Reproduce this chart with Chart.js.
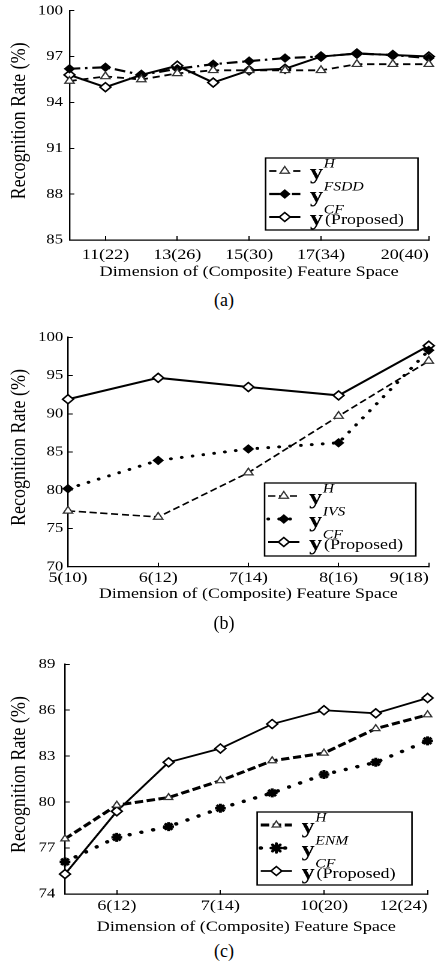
<!DOCTYPE html>
<html>
<head>
<meta charset="utf-8">
<script src="https://cdn.jsdelivr.net/npm/chart.js@4.4.1/dist/chart.umd.min.js"></script>
<style>
  body { margin: 0; background: #fff; width: 436px; height: 964px; position: relative; overflow: hidden; }
  /* the scanned figure is stretched sideways, so each panel is drawn narrow and scaled */
  .panel { position: absolute; left: 0; width: 363.33px; transform: scaleX(1.2); transform-origin: 0 0; }
  .caption { position: absolute; left: 0; width: 448px; text-align: center; font: 18px/20px "Liberation Serif", serif; color: #000; }
</style>
</head>
<body>
<div class="panel" style="top:0px;height:290px"><canvas id="chartA"></canvas></div>
<div class="caption" style="top:290px">(a)</div>
<div class="panel" style="top:320px;height:297px"><canvas id="chartB"></canvas></div>
<div class="caption" style="top:613px">(b)</div>
<div class="panel" style="top:640px;height:300px"><canvas id="chartC"></canvas></div>
<div class="caption" style="top:941px">(c)</div>

<script>
const SX = 1.2;
const serif = '"Liberation Serif", "Times New Roman", serif';

// (a) only some dimensions are labelled on the axis
const labelsA = ["", "11(22)", "", "13(26)", "", "15(30)", "", "17(34)", "", "", "20(40)"];
const yTicksA = [85, 88, 91, 94, 97, 100];
const hA = [95.4, 95.7, 95.5, 95.9, 96.1, 96.1, 96.1, 96.1, 96.5, 96.5, 96.5];
const fsddA = [96.2, 96.3, 95.8, 96.2, 96.5, 96.7, 96.9, 97.0, 97.2, 97.1, 96.9];
const cfA = [95.8, 95.0, 95.8, 96.4, 95.3, 96.1, 96.2, 97.0, 97.2, 97.1, 97.0];

// (b)
const labelsB = ["5(10)", "6(12)", "7(14)", "8(16)", "9(18)"];
const yTicksB = [70, 75, 80, 85, 90, 95, 100];
const hB = [77.3, 76.5, 82.3, 89.7, 96.9];
const ivsB = [80.2, 83.9, 85.4, 86.2, 98.3];
const cfB = [91.9, 94.7, 93.5, 92.4, 98.9];

// (c)
const labelsC = ["", "6(12)", "", "7(14)", "", "10(20)", "", "12(24)"];
const yTicksC = [74, 77, 80, 83, 86, 89];
const hC = [77.6, 79.8, 80.3, 81.4, 82.7, 83.2, 84.8, 85.7];
const enmC = [76.1, 77.7, 78.4, 79.6, 80.6, 81.8, 82.6, 84.0];
const cfC = [75.3, 79.4, 82.6, 83.5, 85.1, 86.0, 85.8, 86.8];

const yTitle = "\u00a0\u00a0Recognition Rate (%)";
const xTitle = "Dimension of (Composite) Feature Space";

// legend box drawn inside the plot, lower right
const keyBox = {
  id: "keyBox",
  afterDraw(chart, args, o) {
    const ctx = chart.ctx;
    const a = chart.chartArea;
    const x0 = a.right - o.right - o.width;
    const y0 = a.bottom - o.bottom - o.height;
    ctx.save();
    ctx.fillStyle = "#fff";
    ctx.fillRect(x0, y0, o.width, o.height);
    ctx.lineWidth = 1.3;
    ctx.strokeStyle = "#000";
    ctx.strokeRect(x0, y0, o.width, o.height);
    chart.data.datasets.forEach((ds, i) => {
      const cy = y0 + 13 + i * 23;
      ctx.beginPath();
      ctx.setLineDash(ds.borderDash || []);
      ctx.lineCap = ds.borderCapStyle || "butt";
      ctx.lineWidth = ds.borderWidth;
      ctx.strokeStyle = ds.borderColor;
      ctx.moveTo(x0 + 3, cy);
      ctx.lineTo(x0 + 29, cy);
      ctx.stroke();
      ctx.setLineDash([]);
      ctx.fillStyle = ds.pointBackgroundColor;
      ctx.strokeStyle = ds.pointBorderColor;
      ctx.lineWidth = ds.pointBorderWidth;
      Chart.helpers.drawPoint(ctx, {
        pointStyle: ds.pointStyle, radius: ds.pointRadius,
        borderWidth: ds.pointBorderWidth, rotation: 0,
      }, x0 + 16, cy);

      ctx.fillStyle = "#000";
      ctx.textAlign = "left";
      ctx.textBaseline = "alphabetic";
      const tx = x0 + 37;
      ctx.font = "bold 22px " + serif;
      ctx.fillText("y", tx, cy + 8);
      const w = ctx.measureText("y").width;
      ctx.font = "italic 13px " + serif;
      ctx.fillText(ds.label, tx + w + 0.5, cy - 3.5);
      if (ds.note) {
        ctx.font = "15px " + serif;
        ctx.fillText(ds.note, tx + w + 1.5, cy + 7);
      }
    });
    ctx.restore();
  },
};

const lineSet = (label, data, style) => Object.assign({
  label, data,
  borderColor: "#000",
  pointBorderColor: "#000",
  pointBackgroundColor: "#fff",
  pointBorderWidth: 1.2,
  fill: false,
  tension: 0,
  clip: false,
}, style);

const makeChart = (id, labels, yTicks, datasets, g) => {
  const left = g.left / SX;
  const right = g.right / SX;
  const width = 436 / SX;
  return new Chart(id, {
    type: "line",
    data: { labels, datasets },
    plugins: [keyBox],
    options: {
      responsive: true,
      maintainAspectRatio: false,
      animation: false,
      events: [],
      devicePixelRatio: 2,
      layout: { padding: { top: g.plotTop - g.top, right: width - right, bottom: 0, left: 0 } },
      plugins: {
        legend: { display: false },
        tooltip: { enabled: false },
        keyBox: g.key,
      },
      scales: {
        x: {
          type: "category",
          offset: false,
          border: { color: "#000", width: 1.2 },
          grid: {
            drawOnChartArea: false,
            tickLength: -4,
            tickColor: (c) => (c.index === 0 ? "rgba(0,0,0,0)" : "#000"),
          },
          afterBuildTicks: (s) => {
            const idx = [];
            labels.forEach((l, i) => { if (l) idx.push(i); });
            s.ticks = [{ value: 0 }].concat(idx.map((v) => ({ value: v })));
          },
          afterFit: (s) => {
            s.height = g.top + g.height - g.plotBottom;
            s.paddingLeft = 0;
            s.paddingRight = 0;
          },
          ticks: {
            autoSkip: false,
            maxRotation: 0,
            minRotation: 0,
            align: "inner",
            padding: g.xPad,
            color: "#000",
            font: { family: serif, size: 15 },
            callback: (v, i) => (i === 0 ? "" : labels[v]),
          },
          title: {
            display: true,
            text: xTitle,
            color: "#000",
            font: { family: serif, size: 15 },
            padding: { top: 0, bottom: g.top + g.height - g.xTitleY - 9 },
          },
        },
        y: {
          min: yTicks[0],
          max: yTicks[yTicks.length - 1],
          border: { color: "#000", width: 1.2 },
          grid: { drawOnChartArea: false, tickLength: -4, tickColor: "#000" },
          afterBuildTicks: (s) => {
            s.ticks = yTicks.map((v) => ({ value: v }));
          },
          afterFit: (s) => {
            s.width = left;
            s.paddingTop = 0;
            s.paddingBottom = 0;
          },
          ticks: {
            padding: g.yPad,
            color: "#000",
            font: { family: serif, size: 14 },
          },
          title: {
            display: true,
            text: yTitle,
            color: "#000",
            font: { family: serif, size: 18 },
            padding: { top: 5.5, bottom: 0 },
          },
        },
      },
    },
  });
};

const open = (extra) => Object.assign({ pointBackgroundColor: "#fff" }, extra);

makeChart("chartA", labelsA, yTicksA, [
  lineSet("H", hA, { borderDash: [6, 4], borderWidth: 1.8, pointStyle: "triangle", pointRadius: 4.5, pointBorderColor: "#333" }),
  lineSet("FSDD", fsddA, { borderDash: [9, 4, 2, 4], borderWidth: 2.2, pointStyle: "rectRot", pointRadius: 4, pointBackgroundColor: "#000" }),
  lineSet("CF", cfA, open({ borderDash: [], borderWidth: 2, pointStyle: "rectRot", pointRadius: 4.5, pointBorderWidth: 1.5, note: "(Proposed)" })),
], { top: 0, height: 290, plotTop: 10.7, plotBottom: 240, left: 69.5, right: 432.7, xPad: 10, yPad: 9.4, xTitleY: 272,
     key: { width: 127, height: 72, right: 9, bottom: 10 } });

makeChart("chartB", labelsB, yTicksB, [
  lineSet("H", hB, { borderDash: [6, 3], borderWidth: 1.6, pointStyle: "triangle", pointRadius: 4.5, pointBorderColor: "#333" }),
  lineSet("IVS", ivsB, { borderDash: [0.1, 9], borderCapStyle: "round", borderWidth: 3, pointStyle: "rectRot", pointRadius: 4, pointBackgroundColor: "#000" }),
  lineSet("CF", cfB, open({ borderDash: [], borderWidth: 2, pointStyle: "rectRot", pointRadius: 4.5, pointBorderWidth: 1.5, note: "(Proposed)" })),
], { top: 320, height: 297, plotTop: 337.3, plotBottom: 566.7, left: 68, right: 429, xPad: 6.3, yPad: 7.9, xTitleY: 594,
     key: { width: 126, height: 73, right: 10.8, bottom: 10.7 } });

makeChart("chartC", labelsC, yTicksC, [
  lineSet("H", hC, { borderDash: [7, 3], borderWidth: 3, pointStyle: "triangle", pointRadius: 4, pointBorderColor: "#333" }),
  lineSet("ENM", enmC, { borderDash: [0.1, 10], borderCapStyle: "round", borderWidth: 3.5, pointStyle: "star", pointRadius: 4.5, pointBorderWidth: 2.5, pointBackgroundColor: "#000" }),
  lineSet("CF", cfC, open({ borderDash: [], borderWidth: 1.8, pointStyle: "rectRot", pointRadius: 4.5, pointBorderWidth: 1.5, note: "(Proposed)" })),
], { top: 640, height: 300, plotTop: 664.3, plotBottom: 894, left: 65, right: 432, xPad: 7, yPad: 12, xTitleY: 927,
     key: { width: 129, height: 73, right: 13, bottom: 9 } });
</script>
</body>
</html>
